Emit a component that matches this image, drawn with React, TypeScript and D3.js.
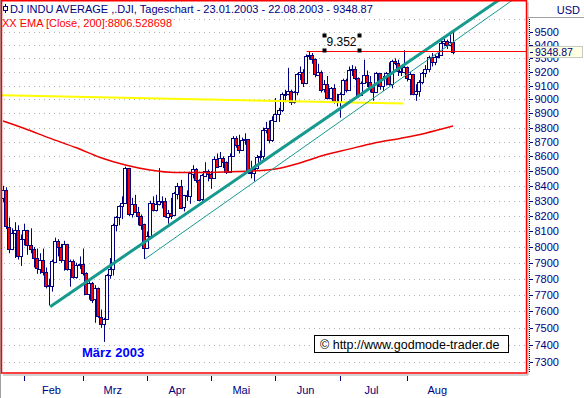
import React, { useEffect, useRef } from 'react';
import * as d3 from 'd3';

const title = 'DJ INDU AVERAGE ,.DJI, Tageschart - 23.01.2003 - 22.08.2003 - 9348.87';
const emaTitle = 'XX EMA [Close, 200]:8806.528698';
const currency = 'USD';
const lastPrice = 9348.87;
const resistance = 9352;
const resistanceLabel = '9.352';
const lowLabel = 'März 2003';
const copyright = '© http://www.godmode-trader.de';

const monthNames = ['Jan', 'Feb', 'Mrz', 'Apr', 'Mai', 'Jun', 'Jul', 'Aug'];
// Handelstage 2003 je Monat
const tradingDays: number[][] = [
    [23, 24, 27, 28, 29, 30, 31],
    [3, 4, 5, 6, 7, 10, 11, 12, 13, 14, 18, 19, 20, 21, 24, 25, 26, 27, 28],
    [3, 4, 5, 6, 7, 10, 11, 12, 13, 14, 17, 18, 19, 20, 21, 24, 25, 26, 27, 28, 31],
    [1, 2, 3, 4, 7, 8, 9, 10, 11, 14, 15, 16, 17, 21, 22, 23, 24, 25, 28, 29, 30],
    [1, 2, 5, 6, 7, 8, 9, 12, 13, 14, 15, 16, 19, 20, 21, 22, 23, 27, 28, 29, 30],
    [2, 3, 4, 5, 6, 9, 10, 11, 12, 13, 16, 17, 18, 19, 20, 23, 24, 25, 26, 27, 30],
    [1, 2, 3, 7, 8, 9, 10, 11, 14, 15, 16, 17, 18, 21, 22, 23, 24, 25, 28, 29, 30, 31],
    [1, 4, 5, 6, 7, 8, 11, 12, 13, 14, 15, 18, 19, 20, 21, 22],
];

const opens = [
    8318, 8369, 8131, 7989, 8089, 8110, 7945,
    8054, 8109, 8013, 7985, 7930, 7865, 7920, 7843, 7758, 7749, 7908, 8041, 8000, 7915, 8018, 7859, 7909, 7806, 7884,
    7891, 7837, 7705, 7776, 7673, 7740, 7568, 7524, 7553, 7822, 7859, 8141, 8194, 8265, 8286, 8522, 8215, 8280, 8229, 8201, 8145,
    7992, 8069, 8285, 8240, 8277, 8300, 8298, 8197, 8221, 8203, 8351, 8402, 8257, 8337, 8328, 8485, 8516, 8441, 8307, 8471, 8502,
    8480, 8454, 8583, 8531, 8589, 8561, 8492, 8604, 8726, 8679, 8647, 8713, 8719, 8494, 8491, 8517, 8594, 8602, 8782, 8794, 8711,
    8850, 8897, 8922, 9038, 9041, 9062, 8980, 9054, 9183, 9196, 9117, 9318, 9323, 9294, 9180, 9201, 9073, 9109, 9011, 9080, 8986,
    8985, 9040, 9143, 9070, 9217, 9224, 9157, 9036, 9120, 9177, 9129, 9094, 9050, 9189, 9097, 9158, 9194, 9112, 9284, 9266, 9204, 9200,
    9234, 9153, 9186, 9037, 9061, 9126, 9191, 9218, 9310, 9271, 9310, 9321, 9412, 9429, 9398, 9424,
];
const highs = [
    8400, 8390, 8190, 8120, 8160, 8140, 8080,
    8150, 8110, 8120, 8000, 7990, 7960, 7990, 7870, 7800, 7920, 8060, 8050, 8020, 8040, 8020, 7920, 7920, 7900, 7940,
    7990, 7840, 7790, 7780, 7760, 7745, 7610, 7560, 7830, 7930, 8150, 8200, 8270, 8330, 8530, 8522, 8320, 8340, 8260, 8210, 8150,
    8100, 8300, 8330, 8340, 8520, 8330, 8320, 8240, 8320, 8360, 8420, 8440, 8340, 8370, 8490, 8540, 8520, 8445, 8480, 8560, 8510,
    8500, 8600, 8620, 8630, 8600, 8565, 8620, 8740, 8740, 8750, 8730, 8760, 8720, 8570, 8540, 8610, 8640, 8800, 8840, 8850, 8880,
    9010, 8940, 9050, 9070, 9230, 9070, 9060, 9190, 9240, 9220, 9330, 9352, 9340, 9300, 9260, 9210, 9140, 9170, 9090, 9110, 9040,
    9050, 9150, 9150, 9240, 9250, 9240, 9160, 9130, 9290, 9210, 9170, 9100, 9200, 9190, 9170, 9200, 9270, 9290, 9300, 9290, 9240, 9360,
    9240, 9200, 9186, 9110, 9140, 9200, 9250, 9320, 9340, 9330, 9340, 9440, 9460, 9440, 9485, 9510,
];
const lows = [
    8290, 8115, 7960, 7980, 7930, 7920, 7880,
    8010, 7950, 7960, 7870, 7830, 7830, 7820, 7740, 7635, 7720, 7900, 7940, 7900, 7850, 7850, 7750, 7800, 7800, 7860,
    7820, 7700, 7670, 7650, 7530, 7560, 7500, 7416, 7550, 7800, 7820, 8100, 8140, 8180, 8280, 8200, 8190, 8220, 8140, 8110, 7924,
    7990, 8069, 8230, 8230, 8270, 8250, 8190, 8150, 8180, 8200, 8310, 8250, 8230, 8300, 8280, 8450, 8420, 8300, 8300, 8460, 8430,
    8380, 8450, 8520, 8530, 8520, 8480, 8490, 8600, 8660, 8620, 8640, 8680, 8480, 8450, 8430, 8510, 8570, 8570, 8760, 8690, 8700,
    8850, 8840, 8910, 8980, 9030, 8960, 8970, 9030, 9140, 9090, 9110, 9290, 9260, 9160, 9170, 9050, 9050, 9000, 9000, 8970, 8950,
    8870, 9030, 9050, 9070, 9170, 9140, 9010, 9030, 9120, 9090, 9050, 8990, 9050, 9070, 9060, 9100, 9100, 9080, 9250, 9170, 9170, 9190,
    9130, 9030, 9030, 8990, 9020, 9110, 9160, 9200, 9240, 9250, 9300, 9320, 9390, 9370, 9390, 9330,
];
const closes = [
    8369, 8131, 7989, 8089, 8110, 7945, 8054,
    8109, 8013, 7985, 7930, 7865, 7920, 7843, 7758, 7749, 7908, 8041, 8000, 7915, 8018, 7859, 7909, 7806, 7884, 7891,
    7837, 7705, 7776, 7673, 7740, 7568, 7524, 7553, 7822, 7859, 8141, 8194, 8265, 8286, 8522, 8215, 8280, 8229, 8201, 8145, 7992,
    8069, 8285, 8240, 8277, 8300, 8298, 8197, 8221, 8203, 8351, 8402, 8257, 8337, 8328, 8485, 8516, 8441, 8307, 8471, 8502, 8480,
    8454, 8583, 8531, 8589, 8561, 8492, 8604, 8726, 8679, 8647, 8713, 8719, 8494, 8491, 8517, 8594, 8602, 8782, 8794, 8711, 8850,
    8897, 8922, 9038, 9041, 9062, 8980, 9054, 9183, 9196, 9117, 9318, 9323, 9294, 9180, 9201, 9073, 9109, 9011, 9080, 8986, 8985,
    9040, 9143, 9070, 9217, 9224, 9157, 9036, 9120, 9177, 9129, 9094, 9050, 9189, 9097, 9158, 9194, 9112, 9284, 9266, 9204, 9200, 9234,
    9153, 9186, 9037, 9061, 9126, 9191, 9218, 9310, 9271, 9310, 9321, 9412, 9429, 9398, 9424, 9349,
];

const emaIdx = [0, 7, 15, 24, 32, 40, 48, 56, 64, 72, 81, 89, 97, 105, 113, 121, 130, 138, 147];
const emaValues = [8846, 8794, 8728, 8659, 8591, 8541, 8507, 8490, 8490, 8494, 8500, 8514, 8555, 8609, 8650, 8691, 8726, 8761, 8811];

// Trendlinien (Index, Kurs)
const trendMainIdx = [15.4, 163];
const trendMainVal = [7628, 9760];
const trendThinIdx = [46.4, 167];
const trendThinVal = [7924, 9752];
const supportIdx = [-1, 130.7];
const supportVal = [9030, 8970];
const resistanceIdx = [99.2, 175];

const yTickValues = [7300, 7400, 7500, 7600, 7700, 7800, 7900, 8000, 8100, 8200, 8300, 8400,
    8500, 8600, 8700, 8800, 8900, 9000, 9100, 9200, 9300, 9400, 9500];
const gridValues = [...yTickValues, 9600];

function DowChart() {
    const ref = useRef<SVGSVGElement>(null);

    useEffect(() => {
        document.body.style.margin = '0';
        const svg = d3.select(ref.current);
        svg.selectAll('*').remove();

        const font = '"Liberation Sans", Arial, sans-serif';
        const navy = '#000080';
        const teal = '#179a8e';
        const plot = { left: 2, top: 1, right: 526, bottom: 373 };

        const monthOf: number[] = [];
        tradingDays.forEach((days, m) => days.forEach(() => monthOf.push(m)));

        const x = d3.scaleLinear().domain([0, closes.length - 1]).range([3, 453]);
        const y = d3.scaleLog().domain([7300, 9500]).range([361.7, 31.7]);
        const px = (i: number) => Math.round(x(i));

        svg.append('rect').attr('width', 584).attr('height', 398).attr('fill', '#fff');

        svg.append('defs').append('clipPath').attr('id', 'plotClip').append('rect')
            .attr('x', plot.left).attr('y', plot.top)
            .attr('width', plot.right - plot.left).attr('height', plot.bottom - plot.top);

        const g = svg.append('g').attr('clip-path', 'url(#plotClip)');

        // gepunktete Gitterlinien
        g.selectAll('line.grid').data(gridValues).enter().append('line')
            .attr('x1', plot.left + 2).attr('x2', plot.right)
            .attr('y1', d => Math.round(y(d)) + 0.5).attr('y2', d => Math.round(y(d)) + 0.5)
            .attr('stroke', '#b0b0b0').attr('stroke-dasharray', '1,4');

        // Kerzen
        const candleData = closes.map((c, i) => ({ i, o: opens[i], h: highs[i], l: lows[i], c }));
        const candles = g.selectAll('g.candle').data(candleData).enter().append('g');
        candles.append('line')
            .attr('x1', d => px(d.i) + 0.5).attr('x2', d => px(d.i) + 0.5)
            .attr('y1', d => y(d.h)).attr('y2', d => y(d.l))
            .attr('stroke', navy).attr('stroke-width', 1);
        candles.append('rect')
            .attr('x', d => px(d.i) - 1.5)
            .attr('width', 3)
            .attr('y', d => Math.round(y(Math.max(d.o, d.c))) + 0.5)
            .attr('height', d => Math.max(1, Math.round(Math.abs(y(d.o) - y(d.c)))))
            .attr('fill', d => (d.c < d.o ? '#ff0000' : '#ffffff'))
            .attr('stroke', navy).attr('stroke-width', 1);

        // EMA 200
        const emaLine = d3.line<number>()
            .x((d, k) => x(emaIdx[k]))
            .y(d => y(d))
            .curve(d3.curveMonotoneX);
        g.append('path').attr('d', emaLine(emaValues) as string)
            .attr('fill', 'none').attr('stroke', '#ee0000').attr('stroke-width', 1.5);

        const seg = d3.line<[number, number]>().x(d => x(d[0])).y(d => y(d[1]));

        // gelbe Unterstützung
        g.append('path').attr('d', seg(supportIdx.map((i, k) => [i, supportVal[k]] as [number, number])) as string)
            .attr('stroke', '#ffff00').attr('stroke-width', 2).attr('fill', 'none');

        // Trendlinien
        g.append('path').attr('d', seg(trendMainIdx.map((i, k) => [i, trendMainVal[k]] as [number, number])) as string)
            .attr('stroke', teal).attr('stroke-width', 3).attr('fill', 'none');
        g.append('path').attr('d', seg(trendThinIdx.map((i, k) => [i, trendThinVal[k]] as [number, number])) as string)
            .attr('stroke', teal).attr('stroke-width', 1).attr('fill', 'none');

        // Widerstand 9352
        g.append('line')
            .attr('x1', x(resistanceIdx[0])).attr('x2', x(resistanceIdx[1]))
            .attr('y1', Math.round(y(resistance)) + 0.5).attr('y2', Math.round(y(resistance)) + 0.5)
            .attr('stroke', '#ff0000').attr('stroke-width', 1.2);

        // Beschriftung 9.352 mit Markierungspunkten
        svg.append('text').attr('x', 326.5).attr('y', 46)
            .style('font-family', font).style('font-size', '12px').style('fill', '#000')
            .text(resistanceLabel);
        [[322.5, 33.5], [357.5, 33.5], [322.5, 48.5], [357.5, 48.5]].forEach(([hx, hy]) => {
            svg.append('rect').attr('x', hx).attr('y', hy).attr('width', 4).attr('height', 4).attr('fill', '#000');
        });

        // März 2003
        svg.append('text').attr('x', 82).attr('y', 357)
            .style('font-family', font).style('font-size', '13px').style('font-weight', 'bold')
            .style('fill', '#0000ff').text(lowLabel);

        // Copyright-Box
        svg.append('rect').attr('x', 314.5).attr('y', 335.5).attr('width', 194).attr('height', 17)
            .attr('fill', '#fff').attr('stroke', '#000');
        svg.append('text').attr('x', 320).attr('y', 348.5)
            .style('font-family', font).style('font-size', '12.5px').style('fill', '#000')
            .text(copyright);

        // Rahmen
        svg.append('line').attr('x1', 0.5).attr('x2', 0.5).attr('y1', 0).attr('y2', 398).attr('stroke', '#a0a0a0');
        svg.append('line').attr('x1', 3).attr('x2', 528).attr('y1', 375).attr('y2', 375).attr('stroke', '#a8a8a8');
        svg.append('line').attr('x1', 528).attr('x2', 528).attr('y1', 2).attr('y2', 375).attr('stroke', '#a8a8a8');
        svg.append('rect').attr('x', 1.5).attr('y', 0.75).attr('width', 525).attr('height', 372.25)
            .attr('fill', 'none').attr('stroke', '#ff0000').attr('stroke-width', 1.5);

        // rechte Achse
        svg.append('line').attr('x1', 529.5).attr('x2', 529.5).attr('y1', 19).attr('y2', 373)
            .attr('stroke', navy).attr('stroke-dasharray', '1,1');
        svg.append('line').attr('x1', 528).attr('x2', 584).attr('y1', 17.5).attr('y2', 17.5).attr('stroke', '#a0a0a0');
        svg.append('text').attr('x', 580).attr('y', 13.5).attr('text-anchor', 'end')
            .style('font-family', font).style('font-size', '11px').style('fill', navy).text(currency);

        const yAxis = svg.append('g');
        yAxis.selectAll('line').data(yTickValues).enter().append('line')
            .attr('x1', 530).attr('x2', 533)
            .attr('y1', d => Math.round(y(d)) + 0.5).attr('y2', d => Math.round(y(d)) + 0.5)
            .attr('stroke', navy);
        yAxis.selectAll('text').data(yTickValues).enter().append('text')
            .attr('x', 534.5).attr('y', d => y(d) + 4)
            .style('font-family', font).style('font-size', '11px').style('fill', navy)
            .text(d => String(d));

        // aktueller Kurs
        const py = y(lastPrice);
        svg.append('rect').attr('x', 528.5).attr('y', Math.round(py) - 5.5).attr('width', 54).attr('height', 11)
            .attr('fill', '#ffffe1').attr('stroke', '#c8c8c8');
        svg.append('line').attr('x1', 530).attr('x2', 533)
            .attr('y1', Math.round(py) + 0.5).attr('y2', Math.round(py) + 0.5).attr('stroke', navy);
        svg.append('text').attr('x', 535).attr('y', py + 4)
            .style('font-family', font).style('font-size', '10.5px').style('fill', navy)
            .text(lastPrice.toFixed(2));

        // untere Achse: Monate
        const monthStarts: number[] = [];
        monthOf.forEach((m, i) => { if (i > 0 && m !== monthOf[i - 1]) monthStarts.push(i); });
        const xAxis = svg.append('g');
        monthStarts.forEach((i, k) => {
            const next = k + 1 < monthStarts.length ? monthStarts[k + 1] : i + 21;
            xAxis.append('line')
                .attr('x1', px(i) + 0.5).attr('x2', px(i) + 0.5).attr('y1', 376).attr('y2', 381)
                .attr('stroke', navy);
            xAxis.append('text')
                .attr('x', (x(i) + x(next)) / 2 - 2).attr('y', 394).attr('text-anchor', 'middle')
                .style('font-family', font).style('font-size', '11px').style('fill', navy)
                .text(monthNames[monthOf[i]]);
        });

        // Legende
        svg.append('line').attr('x1', 5.5).attr('x2', 5.5).attr('y1', 4).attr('y2', 13).attr('stroke', navy);
        svg.append('rect').attr('x', 3.5).attr('y', 6.5).attr('width', 4).attr('height', 4)
            .attr('fill', '#fff').attr('stroke', navy);
        svg.append('text').attr('x', 10).attr('y', 13)
            .style('font-family', font).style('font-size', '11px').style('fill', navy).text(title);
        svg.append('text').attr('x', 2).attr('y', 27)
            .style('font-family', font).style('font-size', '11px').style('fill', '#ff0000').text(emaTitle);
    }, []);

    return (
        <svg ref={ref} width={584} height={398} style={{ display: 'block' }}></svg>
    );
}

export default function App() {
    return <DowChart />;
}
